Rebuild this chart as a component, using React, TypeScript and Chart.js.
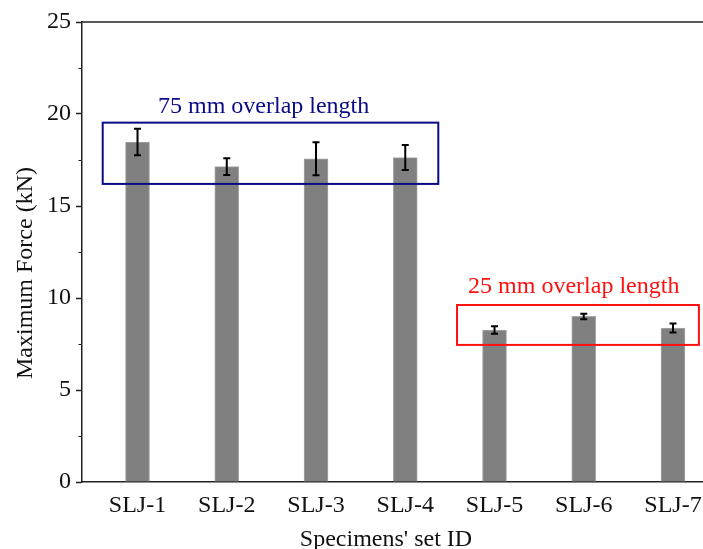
import React, { useEffect, useRef } from "react";
import { Chart, registerables } from "chart.js";

Chart.register(...registerables);

const categories = ["SLJ-1", "SLJ-2", "SLJ-3", "SLJ-4", "SLJ-5", "SLJ-6", "SLJ-7"];
const xPositions = [1, 2, 3, 4, 5, 6, 7];
const maxForce = [18.48, 17.14, 17.57, 17.63, 8.26, 9.0, 8.37];
const forceError = [0.72, 0.45, 0.9, 0.68, 0.2, 0.15, 0.25];
const yTicks = [0, 5, 10, 15, 20, 25];
const yMinorTicks = [2.5, 7.5, 12.5, 17.5, 22.5];

const group75Label = "75 mm overlap length";
const group75Box = { x0: 0.61, x1: 4.37, y0: 16.2, y1: 19.53 };
const group75Text = { x: 2.413, y: 20.05 };
const group25Label = "25 mm overlap length";
const group25Box = { x0: 4.58, x1: 7.29, y0: 7.45, y1: 9.62 };
const group25Text = { x: 5.888, y: 10.29 };

const xTitle = "Specimens' set ID";
const yTitle = "Maximum Force (kN)";

const FONT = '"Liberation Serif", "Times New Roman", serif';

const overlayPlugin = {
  id: "overlay",
  afterDatasetsDraw(chart: any) {
    const { ctx, chartArea, scales } = chart;
    const xs = scales.x;
    const ys = scales.y;
    ctx.save();
    // top border
    ctx.strokeStyle = "#222";
    ctx.lineWidth = 1.5;
    ctx.beginPath();
    ctx.moveTo(chartArea.left, chartArea.top);
    ctx.lineTo(chartArea.right, chartArea.top);
    ctx.stroke();
    // minor ticks
    ctx.lineWidth = 1;
    yMinorTicks.forEach((v) => {
      const py = Math.round(ys.getPixelForValue(v)) + 0.5;
      ctx.beginPath();
      ctx.moveTo(chartArea.left - 3.5, py);
      ctx.lineTo(chartArea.left, py);
      ctx.stroke();
    });
    // error bars
    ctx.strokeStyle = "#000";
    ctx.lineWidth = 2;
    xPositions.forEach((xv, i) => {
      const px = xs.getPixelForValue(xv);
      const top = ys.getPixelForValue(maxForce[i] + forceError[i]);
      const bot = ys.getPixelForValue(maxForce[i] - forceError[i]);
      ctx.beginPath();
      ctx.moveTo(px, top);
      ctx.lineTo(px, bot);
      ctx.moveTo(px - 3.5, top);
      ctx.lineTo(px + 3.5, top);
      ctx.moveTo(px - 3.5, bot);
      ctx.lineTo(px + 3.5, bot);
      ctx.stroke();
    });
    // group boxes
    const drawBox = (b: any, color: string) => {
      const l = xs.getPixelForValue(b.x0);
      const r = xs.getPixelForValue(b.x1);
      const t = ys.getPixelForValue(b.y1);
      const bt = ys.getPixelForValue(b.y0);
      ctx.strokeStyle = color;
      ctx.lineWidth = 2;
      ctx.strokeRect(l, t, r - l, bt - t);
    };
    drawBox(group75Box, "#0a0a86");
    drawBox(group25Box, "#ff1010");
    ctx.font = "24px " + FONT;
    ctx.textAlign = "center";
    ctx.textBaseline = "alphabetic";
    ctx.fillStyle = "#0a0a86";
    ctx.fillText(group75Label, xs.getPixelForValue(group75Text.x), ys.getPixelForValue(group75Text.y));
    ctx.fillStyle = "#ff1010";
    ctx.fillText(group25Label, xs.getPixelForValue(group25Text.x), ys.getPixelForValue(group25Text.y));
    // axis titles
    ctx.fillStyle = "#111";
    ctx.fillText(xTitle, 386, 546);
    ctx.translate(26, 273);
    ctx.rotate(-Math.PI / 2);
    ctx.textBaseline = "middle";
    ctx.fillText(yTitle, 0, 0);
    ctx.restore();
  },
};

export default function App() {
  const ref = useRef<HTMLCanvasElement>(null);
  useEffect(() => {
    if (!ref.current) return;
    const chart = new Chart(ref.current, {
      type: "bar",
      data: {
        datasets: [
          {
            data: xPositions.map((x, i) => ({ x, y: maxForce[i] })),
            backgroundColor: "#808080",
            borderColor: "#a8a8a8",
            borderWidth: { left: 1, right: 1, top: 1, bottom: 0 },
            barThickness: 24,
          },
        ],
      },
      options: {
        responsive: false,
        animation: false,
        devicePixelRatio: 1,
        layout: { padding: { top: 22, right: 0, left: 0, bottom: 0 } },
        plugins: { legend: { display: false }, tooltip: { enabled: false } },
        scales: {
          x: {
            type: "linear",
            offset: false,
            min: 0.378,
            max: 7.336,
            afterBuildTicks: (s: any) => {
              s.ticks = xPositions.map((v) => ({ value: v }));
            },
            afterFit: (s: any) => {
              s.height = 67;
              s.paddingLeft = 0;
              s.paddingRight = 0;
            },
            ticks: {
              autoSkip: false,
              maxRotation: 0,
              padding: 9,
              color: "#111",
              font: { family: FONT, size: 24 },
              callback: (v: any) => {
                const i = xPositions.indexOf(Number(v));
                return i >= 0 ? categories[i] : "";
              },
            },
            grid: { display: true, drawOnChartArea: false, drawTicks: false, offset: false },
            border: { display: true, color: "#222", width: 1.5 },
          },
          y: {
            min: 0,
            max: 25,
            afterBuildTicks: (s: any) => {
              s.ticks = yTicks.map((v) => ({ value: v }));
            },
            afterFit: (s: any) => {
              s.width = 82;
              s.paddingTop = 0;
              s.paddingBottom = 0;
            },
            ticks: {
              padding: 5,
              color: "#111",
              font: { family: FONT, size: 24 },
            },
            grid: { drawOnChartArea: false, tickLength: 6, tickColor: "#222", tickWidth: 1.5 },
            border: { display: true, color: "#222", width: 1.5 },
          },
        },
      },
      plugins: [overlayPlugin],
    } as any);
    return () => chart.destroy();
  }, []);
  return (
    <div style={{ position: "fixed", left: 0, top: 0, width: 703, height: 549, overflow: "hidden", background: "#fff" }}>
      <canvas ref={ref} width={703} height={549} style={{ display: "block" }} />
    </div>
  );
}
